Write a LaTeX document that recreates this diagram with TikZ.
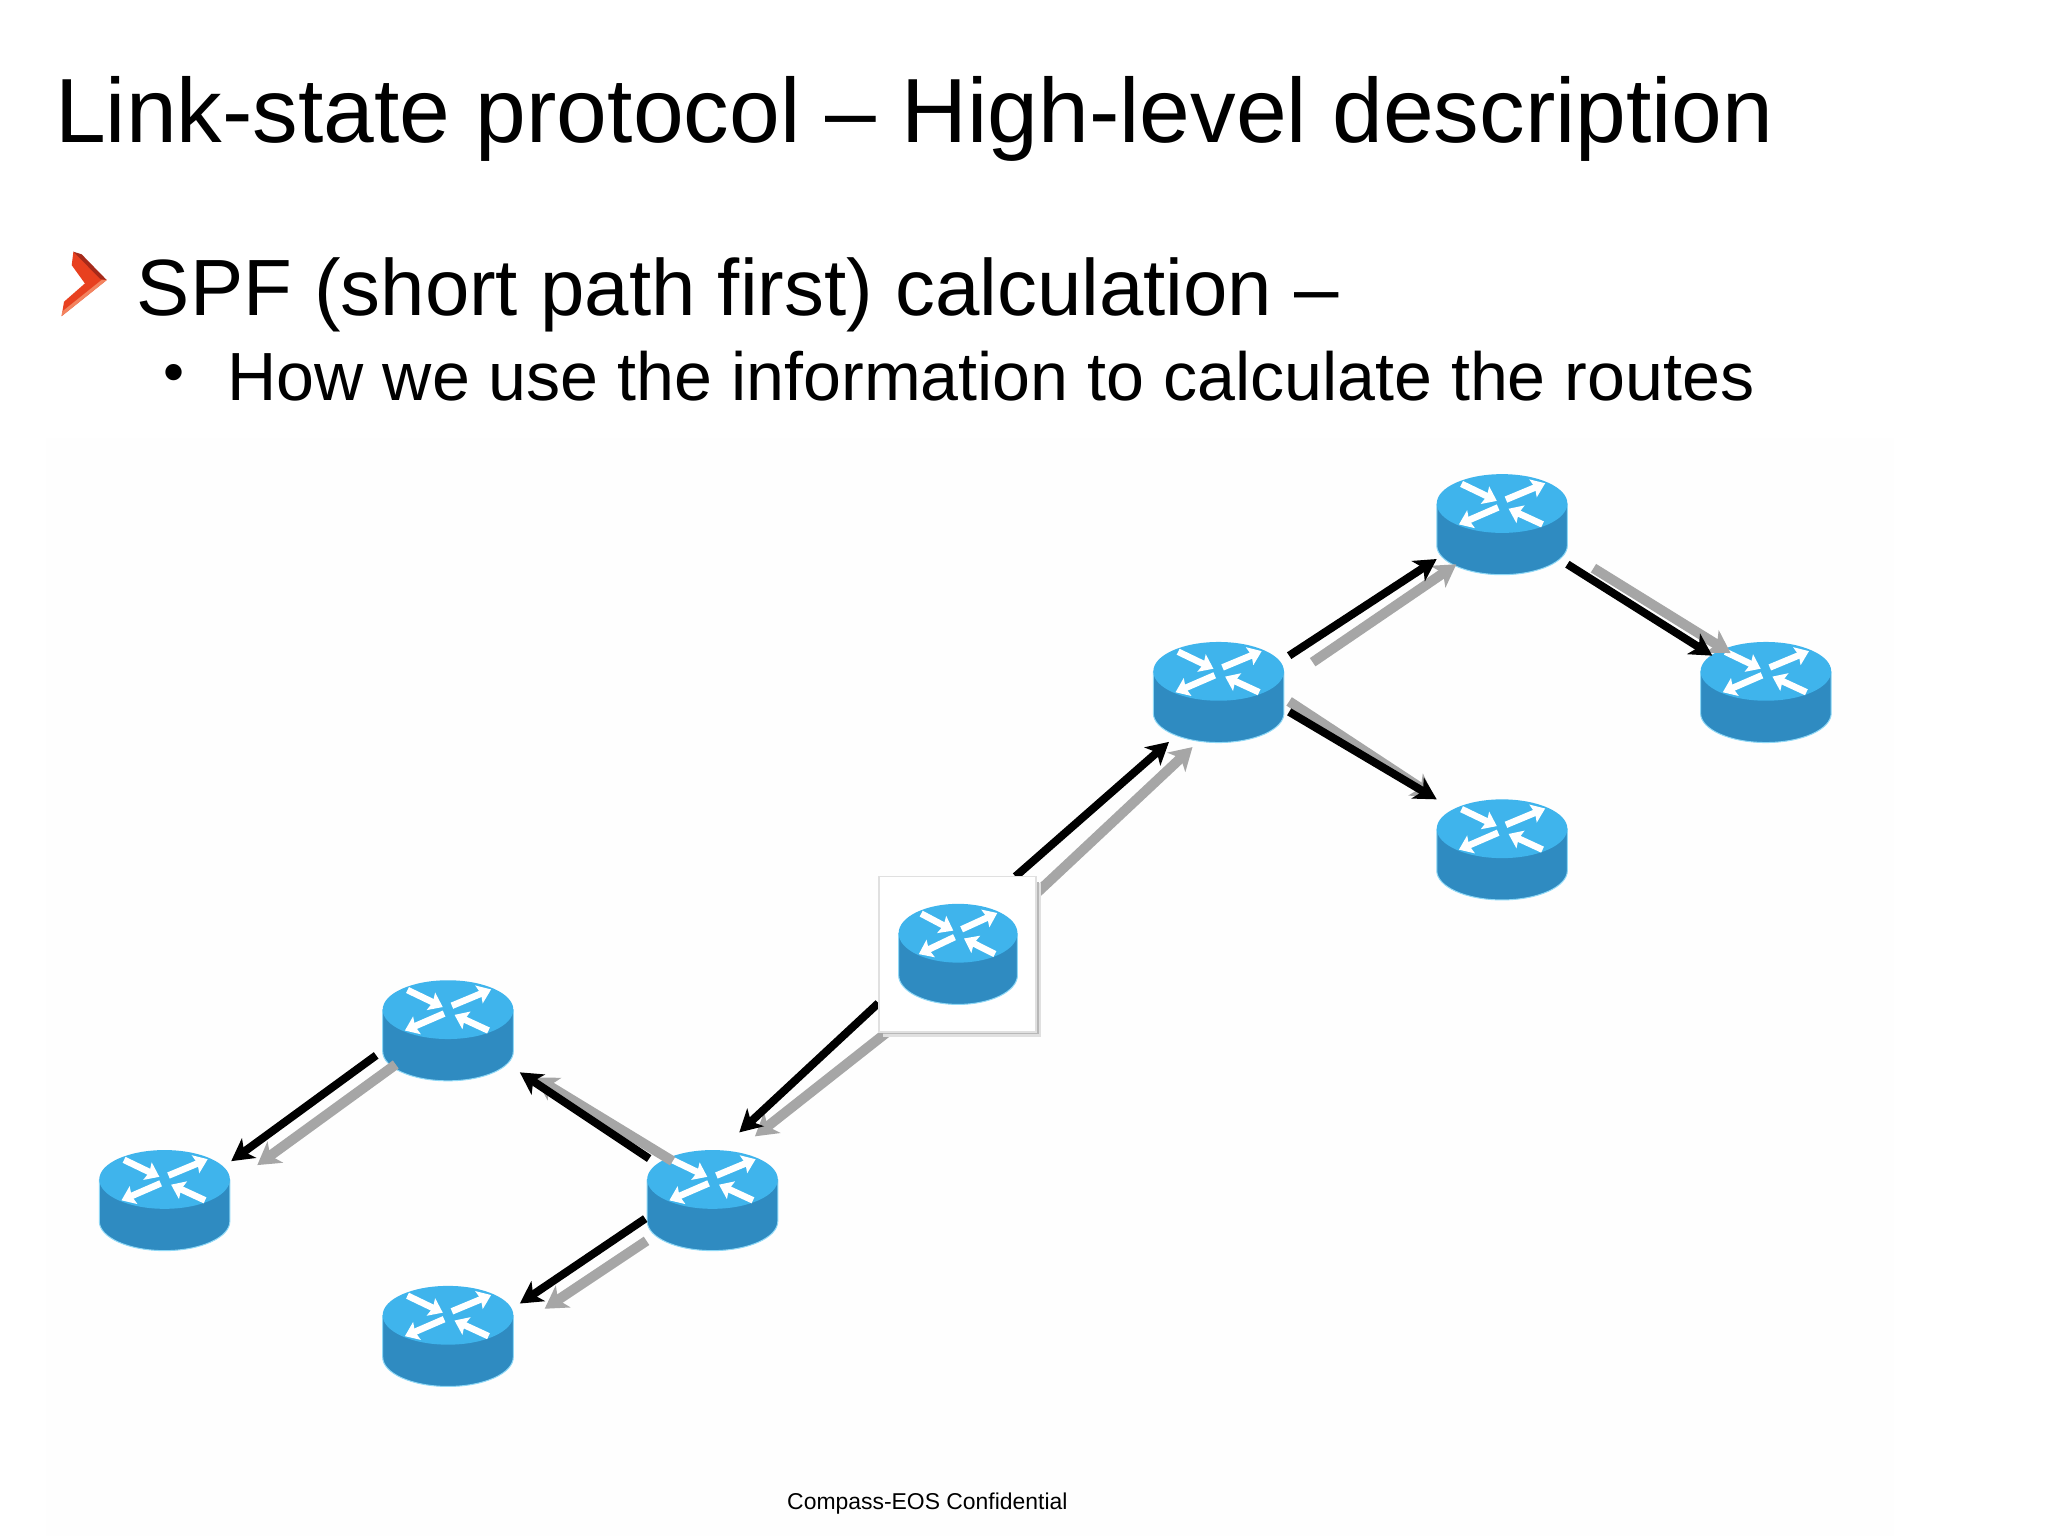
\documentclass[tikz,border=0pt]{standalone}
\usepackage{fontspec}
\setmainfont{Liberation Sans}
\usetikzlibrary{arrows.meta}
\definecolor{rtop}{HTML}{3FB4EC}
\definecolor{rwall}{HTML}{2F8BC1}
\definecolor{rglow}{HTML}{8FD8F6}
\definecolor{garrow}{HTML}{A6A6A6}
\definecolor{chevmain}{HTML}{E8401F}
\definecolor{chevdark}{HTML}{A62A1A}
\definecolor{chevlight}{HTML}{F3835F}
\definecolor{faintbg}{HTML}{FEFEFE}
\tikzset{
  routernode/.style={draw=none,inner sep=0pt,minimum width=65.3pt,minimum height=50.3pt},
  boxnode/.style={draw=black!12,fill=white,line width=0.8pt,inner sep=0pt,minimum width=78.4pt,minimum height=77.7pt},
  blackarrow/.style={draw=black,line width=4pt,-{Stealth[length=11pt,width=12pt,inset=3pt]}},
  grayarrow/.style={draw=garrow,line width=5pt,-{Stealth[length=11pt,width=13pt,inset=3pt]}},
  whitearrow/.style={draw=white,line width=3.3pt,-{Stealth[length=6.5pt,width=9.5pt,inset=1pt]}},
  titletext/.style={anchor=base west,inner sep=0pt,font=\fontsize{45.6}{50}\selectfont},
  mainbullet/.style={anchor=base west,inner sep=0pt,font=\fontsize{39.9}{44}\selectfont},
  subbullet/.style={anchor=base west,inner sep=0pt,font=\fontsize{34.08}{38}\selectfont},
  dotbullet/.style={anchor=base west,inner sep=0pt,font=\fontsize{30}{34}\selectfont},
  footertext/.style={anchor=base,inner sep=0pt,font=\fontsize{11.46}{14}\selectfont},
  routericon/.pic={
    \fill[rwall] (-50,-16) -- (-50,16) arc[start angle=180,end angle=0,x radius=50,y radius=22.5] -- (50,-16) -- cycle;
    \draw[rglow,line width=0.5pt] (-50,-16) -- (-50,16) arc[start angle=180,end angle=0,x radius=50,y radius=22.5] -- (50,-16);
    \fill[rtop] (0,-16) ellipse[x radius=50,y radius=22.5];
    \begin{scope}[shift={(0,-16)}]
      \draw[whitearrow] (3,-3) -- (33,-15.5);
      \draw[whitearrow] (-3,3) -- (-33,16);
      \draw[whitearrow] (-31,-15) -- (-4,-2);
      \draw[whitearrow] (31,16) -- (5,4);
    \end{scope}
  }
}
\begin{document}
\begin{tikzpicture}[x=0.65306pt,y=-0.65306pt]
\useasboundingbox (0,0) rectangle (1568,1176);
\fill[white] (0,0) rectangle (1568,1176);
\fill[faintbg] (35,335) rectangle (1450,1176);

% text
\node[titletext] (title) at (42,109) {Link-state protocol – High-level description};
\fill[chevmain] (56.2,192.7) -- (81.7,214.4) -- (47.2,242) -- (49,231) -- (65,217) -- (54.9,203) -- cycle;
\fill[chevdark] (56.2,192.7) -- (62.5,194.7) -- (81.7,214.4) -- (77,213.8) -- cycle;
\fill[chevlight] (47.2,242) -- (81.7,214.4) -- (78,214.2) -- (47.6,238.5) -- cycle;
\node[mainbullet] (spf) at (104.5,241.5) {SPF (short path first) calculation –};
\node[dotbullet] (dot) at (125,300.6) {•};
\node[subbullet] (how) at (174,306.5) {How we use the information to calculate the routes};
\node[footertext] (foot) at (710,1156) {Compass-EOS Confidential};

% router positions
\node[routernode] (r1) at (1150,401.5) {};
\node[routernode] (r2) at (933,530) {};
\node[routernode] (r3) at (1352,530) {};
\node[routernode] (r4) at (1150,650.5) {};
\node[routernode] (r6) at (343,789) {};
\node[routernode] (r7) at (545.5,919) {};
\node[routernode] (r8) at (126,919) {};
\node[routernode] (r9) at (343,1023) {};
\coordinate (r5) at (733,730.5);

\foreach \n in {r1,r2,r3,r4,r6,r7,r8,r9} { \pic at (\n) {routericon}; }

% connectors
\draw[grayarrow] ([shift={(61.5,-47.5)}]r5) -- ([shift={(-20,42)}]r2.center);
\draw[blackarrow] ([shift={(44.5,-59.5)}]r5) -- ([shift={(-38,38)}]r2.center);
\draw[grayarrow] ([shift={(72,-23)}]r2.center) -- ([shift={(-35,30.5)}]r1.center);
\draw[blackarrow] ([shift={(54,-28)}]r2.center) -- ([shift={(-50,26.5)}]r1.center);
\draw[grayarrow] ([shift={(70,33.5)}]r1.center) -- ([shift={(-27,-30)}]r3.center);
\draw[blackarrow] ([shift={(50,30.5)}]r1.center) -- ([shift={(-41,-28)}]r3.center);
\draw[grayarrow] ([shift={(54,7)}]r2.center) -- ([shift={(-52,-40.5)}]r4.center);
\draw[blackarrow] ([shift={(54,15)}]r2.center) -- ([shift={(-50,-38.5)}]r4.center);
\draw[grayarrow] ([shift={(-53.5,59.5)}]r5) -- ([shift={(32.5,-49)}]r7.center);
\draw[blackarrow] ([shift={(-60.5,37.5)}]r5) -- ([shift={(20.5,-52)}]r7.center);
\draw[grayarrow] ([shift={(-30.5,-30)}]r7.center) -- ([shift={(67,36)}]r6.center);
\draw[blackarrow] ([shift={(-48.5,-32)}]r7.center) -- ([shift={(55,32)}]r6.center);
\draw[grayarrow] ([shift={(-40,26)}]r6.center) -- ([shift={(71,-27)}]r8.center);
\draw[blackarrow] ([shift={(-55,19)}]r6.center) -- ([shift={(51,-30)}]r8.center);
\draw[grayarrow] ([shift={(-50.5,31)}]r7.center) -- ([shift={(74,-21)}]r9.center);
\draw[blackarrow] ([shift={(-51.5,14)}]r7.center) -- ([shift={(55,-25)}]r9.center);

% centre router in its box
\fill[black!12] (676,676) rectangle (797,794);
\fill[black!28] (676,675) rectangle (795.5,792);
\node[boxnode] (r5box) at (r5) {};
\pic[xscale=0.91] at (733.5,730.5) {routericon};
\end{tikzpicture}
\end{document}
